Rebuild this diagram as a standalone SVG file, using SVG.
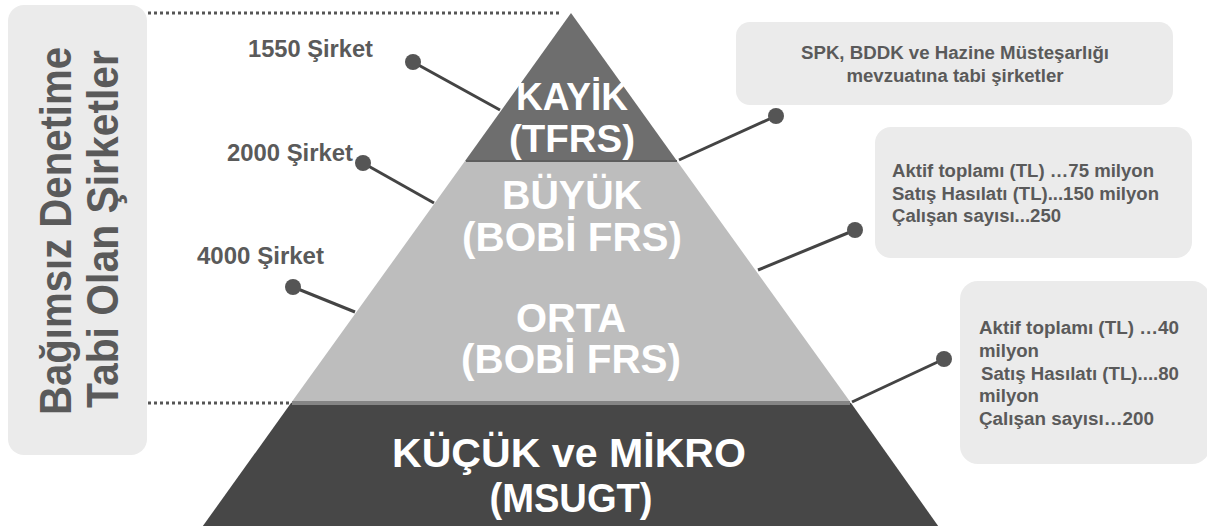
<svg xmlns="http://www.w3.org/2000/svg" width="1207" height="526" viewBox="0 0 1207 526">
<style>
.lbl{font-family:"Liberation Sans",Arial,sans-serif;font-weight:bold;fill:#5a5a5a}
.tier{font-family:"Liberation Sans",Arial,sans-serif;font-weight:bold;fill:#ffffff;text-anchor:middle}
.box{fill:#ebebeb}
.conn{stroke:#444444;stroke-width:3;fill:none}
.dot{fill:#555555}
.dotted{stroke:#555555;stroke-width:3;stroke-dasharray:3 3;fill:none}
</style>
<rect width="1207" height="526" fill="#ffffff"/>
<g id="side-box">
<rect class="box" x="8" y="5" width="139" height="450" rx="16"/>
<text class="lbl" font-size="45" transform="translate(71,415) rotate(-90)" textLength="368" lengthAdjust="spacingAndGlyphs">Bağımsız Denetime</text>
<text class="lbl" font-size="45" transform="translate(118,408) rotate(-90)" textLength="358" lengthAdjust="spacingAndGlyphs">Tabi Olan Şirketler</text>
</g>
<g id="guides">
<line class="dotted" x1="148" y1="13" x2="562" y2="13"/>
<line class="dotted" x1="148" y1="403" x2="289" y2="403"/>
</g>
<g id="tier-kayik">
<polygon points="571,13 465,161 677,161" fill="#6e6e6e"/>
<text class="tier" x="572" y="110" font-size="38" textLength="112" lengthAdjust="spacingAndGlyphs">KAYİK</text>
<text class="tier" x="572" y="152" font-size="38" textLength="126" lengthAdjust="spacingAndGlyphs">(TFRS)</text>
</g>
<g id="tier-buyuk-orta">
<polygon points="465,161 677,161 851,403 291,403" fill="#bdbdbd"/>
<line x1="466" y1="161" x2="677" y2="161" stroke="#5e5e5e" stroke-width="2"/>
<text class="tier" x="572" y="209" font-size="40" textLength="140" lengthAdjust="spacingAndGlyphs">BÜYÜK</text>
<text class="tier" x="572" y="251" font-size="40" textLength="220" lengthAdjust="spacingAndGlyphs">(BOBİ FRS)</text>
<text class="tier" x="571" y="332" font-size="40" textLength="110" lengthAdjust="spacingAndGlyphs">ORTA</text>
<text class="tier" x="571" y="373" font-size="40" textLength="220" lengthAdjust="spacingAndGlyphs">(BOBİ FRS)</text>
</g>
<g id="tier-kucuk">
<polygon points="291,403 851,403 941,530 200,530" fill="#474747"/>
<line x1="292" y1="403" x2="850" y2="403" stroke="#858585" stroke-width="4"/>
<text class="tier" x="569" y="467" font-size="40" textLength="354" lengthAdjust="spacingAndGlyphs">KÜÇÜK ve MİKRO</text>
<text class="tier" x="571" y="512" font-size="40" textLength="163" lengthAdjust="spacingAndGlyphs">(MSUGT)</text>
</g>
<g id="label-1550">
<text class="lbl" x="248" y="57" font-size="24" textLength="125" lengthAdjust="spacingAndGlyphs">1550 Şirket</text>
</g>
<g id="label-2000">
<text class="lbl" x="227" y="161" font-size="24" textLength="126" lengthAdjust="spacingAndGlyphs">2000 Şirket</text>
</g>
<g id="label-4000">
<text class="lbl" x="197" y="264" font-size="24" textLength="127" lengthAdjust="spacingAndGlyphs">4000 Şirket</text>
</g>
<g id="box-kayik">
<rect class="box" x="736" y="22" width="437" height="83" rx="14"/>
<text class="lbl" x="955" y="59" font-size="18" text-anchor="middle" textLength="308" lengthAdjust="spacingAndGlyphs">SPK, BDDK ve Hazine Müsteşarlığı</text>
<text class="lbl" x="955" y="82" font-size="18" text-anchor="middle" textLength="217" lengthAdjust="spacingAndGlyphs">mevzuatına tabi şirketler</text>
</g>
<g id="box-buyuk">
<rect class="box" x="875" y="127" width="317" height="131" rx="16"/>
<text class="lbl" x="892" y="177" font-size="18" textLength="262" lengthAdjust="spacingAndGlyphs">Aktif toplamı (TL) …75 milyon</text>
<text class="lbl" x="892" y="200" font-size="18" textLength="267" lengthAdjust="spacingAndGlyphs">Satış Hasılatı (TL)...150 milyon</text>
<text class="lbl" x="892" y="222" font-size="18" textLength="169" lengthAdjust="spacingAndGlyphs">Çalışan sayısı...250</text>
</g>
<g id="box-orta">
<rect class="box" x="960" y="281" width="250" height="183" rx="18"/>
<text class="lbl" x="979" y="334" font-size="18" textLength="200" lengthAdjust="spacingAndGlyphs">Aktif toplamı (TL) …40</text>
<text class="lbl" x="979" y="357" font-size="18" textLength="60" lengthAdjust="spacingAndGlyphs">milyon</text>
<text class="lbl" x="981" y="380" font-size="18" textLength="198" lengthAdjust="spacingAndGlyphs">Satış Hasılatı (TL)....80</text>
<text class="lbl" x="979" y="402" font-size="18" textLength="60" lengthAdjust="spacingAndGlyphs">milyon</text>
<text class="lbl" x="979" y="425" font-size="18" textLength="175" lengthAdjust="spacingAndGlyphs">Çalışan sayısı…200</text>
</g>
<g id="connectors">
<line class="conn" x1="413" y1="62" x2="500" y2="110"/>
<circle class="dot" cx="413" cy="62" r="8"/>
<line class="conn" x1="363" y1="163" x2="434" y2="203"/>
<circle class="dot" cx="363" cy="163" r="8"/>
<line class="conn" x1="293" y1="287" x2="355" y2="312"/>
<circle class="dot" cx="293" cy="287" r="8"/>
<line class="conn" x1="776" y1="116" x2="679" y2="160"/>
<circle class="dot" cx="776" cy="116" r="8"/>
<line class="conn" x1="855" y1="230" x2="758" y2="270"/>
<circle class="dot" cx="855" cy="230" r="8"/>
<line class="conn" x1="944" y1="359" x2="852" y2="402"/>
<circle class="dot" cx="944" cy="359" r="8"/>
</g>
</svg>
